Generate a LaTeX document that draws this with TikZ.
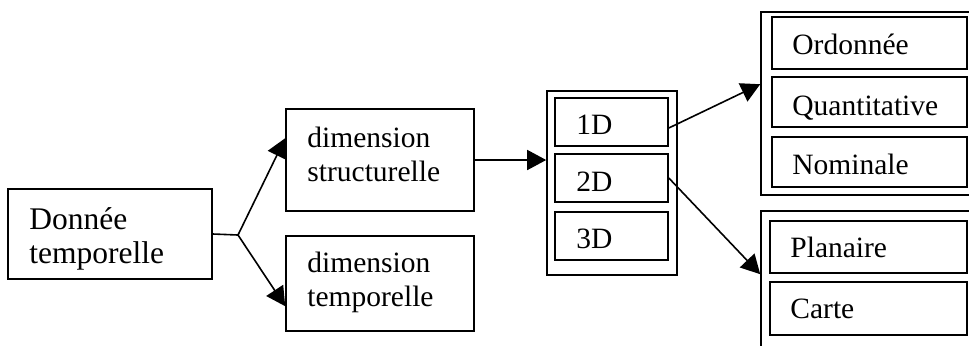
\documentclass[tikz,border=0pt]{standalone}
\usepackage{fontspec}
\setmainfont{Liberation Serif}
\usetikzlibrary{arrows.meta}

\begin{document}
\begin{tikzpicture}[x=0.5pt,y=-0.5pt]
\tikzstyle{box} = [rectangle, draw, line width=0.8pt, inner sep=0pt]
\tikzstyle{txt} = [anchor=base west, inner sep=0pt, text width=90pt, align=left,
font=\fontsize{14.75}{17}\selectfont]
\tikzstyle{bigtxt} = [txt, font=\fontsize{15.75}{17}\selectfont]
\tikzstyle{line} = [draw, line width=0.8pt, -{Triangle[length=9.5pt,width=10pt]}]
\useasboundingbox (0,0) rectangle (969,345);
\clip (0,0) rectangle (969,345);
% data
\node [box, minimum width=102pt, minimum height=45pt] (donnee) at (110,234) {};
\node [bigtxt] (donneetxt) at (29,229) {Donnée\\temporelle};
% dimensions
\node [box, minimum width=94pt, minimum height=51pt] (dstr) at (380,160) {};
\node [txt] (dstrtxt) at (307,147) {dimension\\structurelle};
\node [box, minimum width=94pt, minimum height=47.5pt] (dtemp) at (380,283.5) {};
\node [txt] (dtemptxt) at (307,272) {dimension\\temporelle};
% 1D 2D 3D
\node [box, minimum width=65pt, minimum height=92pt] (dimgrp) at (612,183) {};
\node [box, minimum width=56.5pt, minimum height=24pt] (d1) at (611.5,122) {};
\node [txt] (d1txt) at (576,134) {1D};
\node [box, minimum width=56.5pt, minimum height=24pt] (d2) at (611.5,178) {};
\node [txt] (d2txt) at (576,191) {2D};
\node [box, minimum width=56.5pt, minimum height=24pt] (d3) at (611.5,236) {};
\node [txt] (d3txt) at (576,248) {3D};
% types
\node [box, minimum width=114.5pt, minimum height=91.5pt] (grpA) at (875.5,103.5) {};
\node [box, minimum width=97.5pt, minimum height=26pt] (ord) at (869.5,43) {};
\node [txt] (ordtxt) at (792,54) {Ordonnée};
\node [box, minimum width=97.5pt, minimum height=25pt] (quant) at (869.5,102) {};
\node [txt] (quanttxt) at (792,115) {Quantitative};
\node [box, minimum width=97.5pt, minimum height=25pt] (nom) at (869.5,162) {};
\node [txt] (nomtxt) at (792,174) {Nominale};
% 2D views
\node [box, minimum width=114.5pt, minimum height=79.5pt] (grpB) at (875.5,290.5) {};
\node [box, minimum width=98.5pt, minimum height=26pt] (plan) at (868.5,247) {};
\node [txt] (plantxt) at (790,257) {Planaire};
\node [box, minimum width=98.5pt, minimum height=26.5pt] (carte) at (868.5,308.5) {};
\node [txt] (cartetxt) at (790,318) {Carte};
\coordinate (fork) at (238,235);
\draw [line width=0.8pt] (donnee.east) -- (fork);
\path [line] (fork) -- ([yshift=-15pt]dstr.north west);
\path [line] (fork) -- ([yshift=-35.5pt]dtemp.north west);
\path [line] (dstr.east) -- (dstr.east -| dimgrp.west);
\path [line] ([yshift=-3pt]d1.east) -- ([yshift=-36.5pt]grpA.north west);
\path [line] (d2.east) -- ([yshift=-32pt]grpB.north west);
\end{tikzpicture}
\end{document}
